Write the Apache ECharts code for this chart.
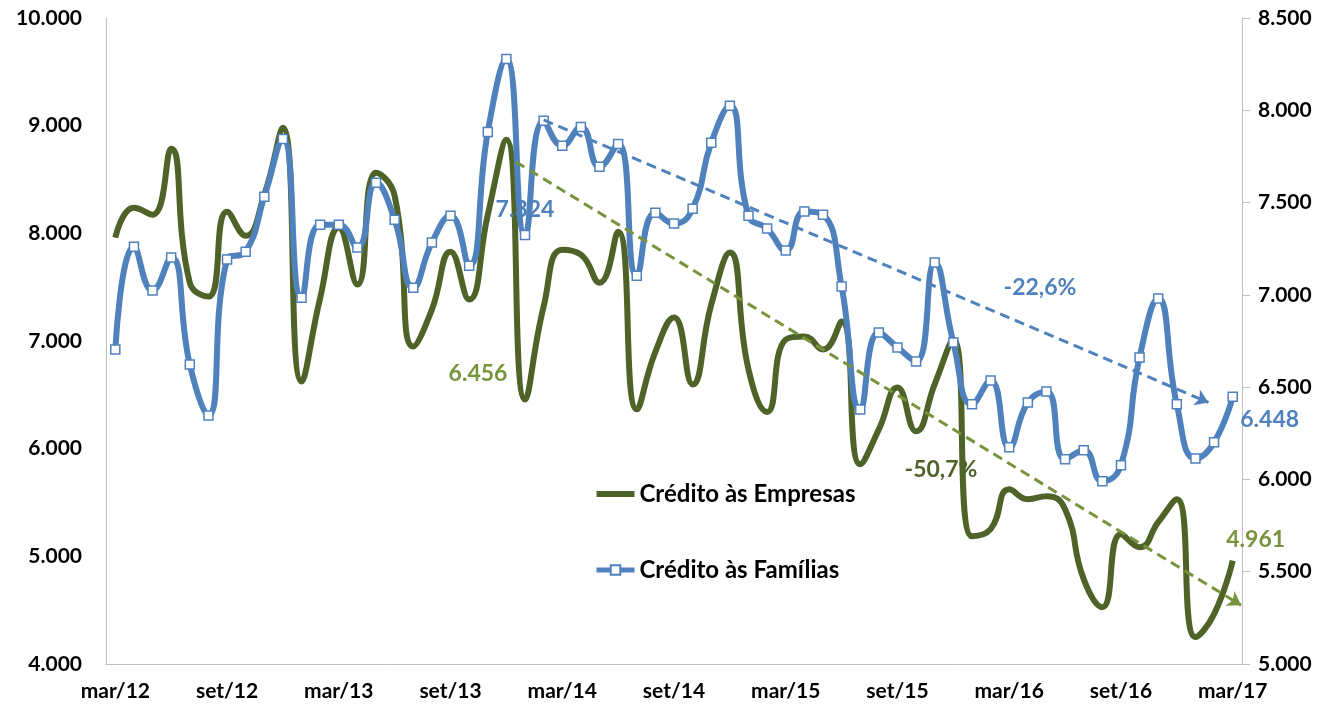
<!DOCTYPE html>
<html>
<head>
<meta charset="utf-8">
<script src="https://cdn.jsdelivr.net/npm/echarts@6/dist/echarts.min.js"></script>
<style>
html, body { margin: 0; padding: 0; background: #fff; }
#chart { width: 1330px; height: 708px; }
</style>
</head>
<body>
<div id="chart"></div>
<script>
// categorias mensais mar/12 .. mar/17
var meses = [
  'mar/12','abr/12','mai/12','jun/12','jul/12','ago/12','set/12','out/12','nov/12','dez/12',
  'jan/13','fev/13','mar/13','abr/13','mai/13','jun/13','jul/13','ago/13','set/13','out/13','nov/13','dez/13',
  'jan/14','fev/14','mar/14','abr/14','mai/14','jun/14','jul/14','ago/14','set/14','out/14','nov/14','dez/14',
  'jan/15','fev/15','mar/15','abr/15','mai/15','jun/15','jul/15','ago/15','set/15','out/15','nov/15','dez/15',
  'jan/16','fev/16','mar/16','abr/16','mai/16','jun/16','jul/16','ago/16','set/16','out/16','nov/16','dez/16',
  'jan/17','fev/17','mar/17'
];

// Crédito às Empresas (eixo esquerdo)
var empresas = [
  7960, 8238, 8173, 8785, 7542, 7413, 8201, 7978, 8359, 8980,
  6624, 7400, 8052, 7524, 8563, 8349, 6949, 7292, 7830, 7385,
  8173, 8869, 6456, 7320, 7848, 7802, 7542, 8015, 6365, 6900,
  7218, 6597, 7338, 7821, 6735, 6340, 7014, 7042, 6921, 7181,
  5855, 6179, 6569, 6161, 6600, 7014, 5187, 5252, 5623, 5530,
  5558, 5437, 4788, 4528, 5205, 5085, 5317, 5530, 4250, 4463,
  4961
];

// Crédito às Famílias (eixo direito)
var familias = [
  6704, 7261, 7023, 7202, 6623, 6347, 7191, 7234, 7532, 7845,
  6985, 7380, 7380, 7256, 7607, 7407, 7039, 7283, 7429, 7158,
  7883, 8278, 7324, 7943, 7808, 7910, 7694, 7818, 7104, 7445,
  7386, 7467, 7824, 8024, 7429, 7359, 7240, 7451, 7434, 7045,
  6379, 6796, 6715, 6639, 7175, 6742, 6407, 6536, 6174, 6417,
  6477, 6109, 6158, 5990, 6077, 6661, 6980, 6407, 6114, 6201,
  6448
];

// setas de tendência: [posição do mês, valor]
var tendEmpresas = [[21.5, 8665], [60.45, 4546]];
var tendFamilias = [[23, 7948], [58.7, 6417]];

var fonte = 'Lato';
var azul = '#4F81BD';
var verde = '#4F6228';
var verdeClaro = '#77933C';

function fmt(v) {
  return String(Math.round(v)).replace(/\B(?=(\d{3})+(?!\d))/g, '.');
}

var chart = echarts.init(document.getElementById('chart'));

var rotulo = {
  show: true,
  position: 'inside',
  fontFamily: fonte,
  fontWeight: 'bold',
  fontSize: 23,
  formatter: function (p) { return fmt(p.value); }
};

var eixoTexto = {
  fontSize: 21,
  fontWeight: 'bold',
  color: '#000',
  fontFamily: fonte
};

chart.setOption({
  animation: false,
  backgroundColor: '#fff',
  textStyle: { fontFamily: fonte },
  grid: { left: 106, right: 88, top: 18, bottom: 44 },
  legend: {
    data: [
      { name: 'Crédito às Empresas', icon: 'path://M0,0H38V6H0Z' },
      { name: 'Crédito às Famílias', lineStyle: { width: 5 } }
    ],
    orient: 'vertical',
    left: 589,
    top: 477,
    itemWidth: 38,
    itemHeight: 12,
    itemGap: 52,
    textStyle: { fontSize: 24, fontWeight: 'bold', color: '#000', fontFamily: fonte }
  },
  xAxis: [{
    type: 'category',
    data: meses,
    boundaryGap: true,
    axisLine: { lineStyle: { color: '#BFBFBF', width: 1 } },
    axisTick: { show: false },
    axisLabel: Object.assign({ interval: 5, margin: 17 }, eixoTexto),
    splitLine: { show: false }
  }, {
    type: 'value',
    min: -0.5,
    max: 60.5,
    show: false
  }],
  yAxis: [{
    type: 'value',
    min: 4000,
    max: 10000,
    interval: 1000,
    axisLine: { show: true, onZero: false, lineStyle: { color: '#BFBFBF' } },
    axisTick: { show: false },
    splitLine: { show: false },
    axisLabel: Object.assign({ margin: 24, formatter: fmt }, eixoTexto)
  }, {
    type: 'value',
    min: 5000,
    max: 8500,
    interval: 500,
    position: 'right',
    axisLine: { show: true, onZero: false, lineStyle: { color: '#BFBFBF' } },
    axisTick: { show: true, length: 8, lineStyle: { color: '#BFBFBF' } },
    splitLine: { show: false },
    axisLabel: Object.assign({ margin: 16, formatter: fmt }, eixoTexto)
  }],
  series: [{
    name: 'Crédito às Empresas',
    type: 'line',
    yAxisIndex: 0,
    data: empresas,
    smooth: 0.5,
    symbol: 'none',
    color: verde,
    lineStyle: { color: verde, width: 6 },
    markPoint: {
      symbol: 'circle',
      symbolSize: 0,
      silent: true,
      label: Object.assign({}, rotulo, { color: verdeClaro }),
      data: [
        { coord: [meses[22], empresas[22]], value: empresas[22], label: { offset: [-47, -26] } },
        { coord: [meses[60], empresas[60]], value: empresas[60], label: { offset: [23, -21] } }
      ]
    }
  }, {
    name: 'Crédito às Famílias',
    type: 'line',
    yAxisIndex: 1,
    data: familias,
    smooth: 0.5,
    symbol: 'rect',
    symbolSize: 9,
    showSymbol: true,
    color: azul,
    itemStyle: { color: '#fff', borderColor: azul, borderWidth: 1.5 },
    lineStyle: { color: azul, width: 6 },
    markPoint: {
      symbol: 'circle',
      symbolSize: 0,
      silent: true,
      label: Object.assign({}, rotulo, { color: azul }),
      data: [
        { coord: [meses[22], familias[22]], value: familias[22], label: { offset: [0, -25] } },
        { coord: [meses[60], familias[60]], value: familias[60], label: { offset: [37, 23] } }
      ]
    }
  }, {
    name: 'tend-empresas',
    type: 'line',
    xAxisIndex: 1,
    yAxisIndex: 0,
    data: [],
    markLine: {
      silent: true,
      symbol: ['none', 'arrow'],
      symbolSize: 13,
      label: { show: false },
      lineStyle: { color: verdeClaro, type: [10, 6], width: 3 },
      data: [[{ coord: tendEmpresas[0] }, { coord: tendEmpresas[1] }]]
    }
  }, {
    name: 'tend-familias',
    type: 'line',
    xAxisIndex: 1,
    yAxisIndex: 1,
    data: [],
    markLine: {
      silent: true,
      symbol: ['none', 'arrow'],
      symbolSize: 13,
      label: { show: false },
      lineStyle: { color: azul, type: [10, 6], width: 3 },
      data: [[{ coord: tendFamilias[0] }, { coord: tendFamilias[1] }]]
    }
  }],
  graphic: [{
    type: 'text',
    x: 1040,
    y: 288,
    silent: true,
    style: { text: '-22,6%', fill: azul, font: 'bold 23px Lato', align: 'center', verticalAlign: 'middle' }
  }, {
    type: 'text',
    x: 941,
    y: 470,
    silent: true,
    style: { text: '-50,7%', fill: verde, font: 'bold 23px Lato', align: 'center', verticalAlign: 'middle' }
  }]
});
</script>
</body>
</html>
